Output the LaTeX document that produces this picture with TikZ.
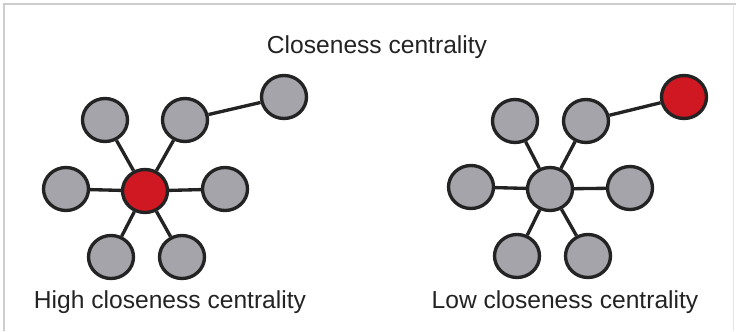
\documentclass[tikz,border=0pt]{standalone}
\usepackage{fontspec}
\setmainfont{Liberation Sans}
\usepackage{tikz}
\usetikzlibrary{shapes.geometric, positioning}
\definecolor{mydark}{RGB}{35,35,35}
\definecolor{mygray}{RGB}{164,164,170}
\definecolor{myred}{RGB}{208,24,34}
\definecolor{myframe}{RGB}{205,205,205}
\tikzset{
  vertex/.style={ellipse, draw=mydark, fill=mygray, minimum width=0.90cm,
    minimum height=0.86cm, inner sep=0pt, line width=1.9pt},
  hubvertex/.style={vertex, fill=myred},
  link/.style={line width=1.9pt, color=mydark},
  caption/.style={font=\fontsize{14}{16}\selectfont, text=mydark}
}

\begin{document}
\begin{tikzpicture}[x=0.02cm, y=-0.02cm]
  \useasboundingbox (0,0) rectangle (736,331);
  \fill[white] (0,0) rectangle (736,331);

  % Frame
  \draw[myframe, line width=0.6pt] (4,331) -- (4,4) -- (736,4);
  \draw[myframe!50, line width=0.5pt] (733,4) -- (733,331);

  % Title
  \node[caption] (title) at (377,47) {Closeness centrality};

  % High closeness: red hub in the middle
  \node[hubvertex] (hc) at (145,191) {};
  \node[vertex] (hw) at (66,189) {};
  \node[vertex] (he) at (225,189) {};
  \node[vertex] (hnw) at (105,120) {};
  \node[vertex] (hne) at (185,120) {};
  \node[vertex] (hfar) at (284,97) {};
  \node[vertex] (hsw) at (111,257) {};
  \node[vertex] (hse) at (182,257) {};

  \draw[link] (hc) -- (hw);
  \draw[link] (hc) -- (he);
  \draw[link] (hc) -- (hnw);
  \draw[link] (hc) -- (hne);
  \draw[link] (hc) -- (hsw);
  \draw[link] (hc) -- (hse);
  \draw[link] (hne) -- (hfar);

  \node[caption] (hlabel) at (170,302) {High closeness centrality};

  % Low closeness: red vertex on the outside
  \node[vertex] (lc) at (550,189) {};
  \node[vertex] (lw) at (471,187) {};
  \node[vertex] (le) at (630,188) {};
  \node[vertex] (lnw) at (515,121) {};
  \node[vertex] (lne) at (586,121) {};
  \node[hubvertex] (lfar) at (684,97) {};
  \node[vertex] (lsw) at (517,256) {};
  \node[vertex] (lse) at (588,256) {};

  \draw[link] (lc) -- (lw);
  \draw[link] (lc) -- (le);
  \draw[link] (lc) -- (lnw);
  \draw[link] (lc) -- (lne);
  \draw[link] (lc) -- (lsw);
  \draw[link] (lc) -- (lse);
  \draw[link] (lne) -- (lfar);

  \node[caption] (llabel) at (565,302) {Low closeness centrality};
\end{tikzpicture}
\end{document}
